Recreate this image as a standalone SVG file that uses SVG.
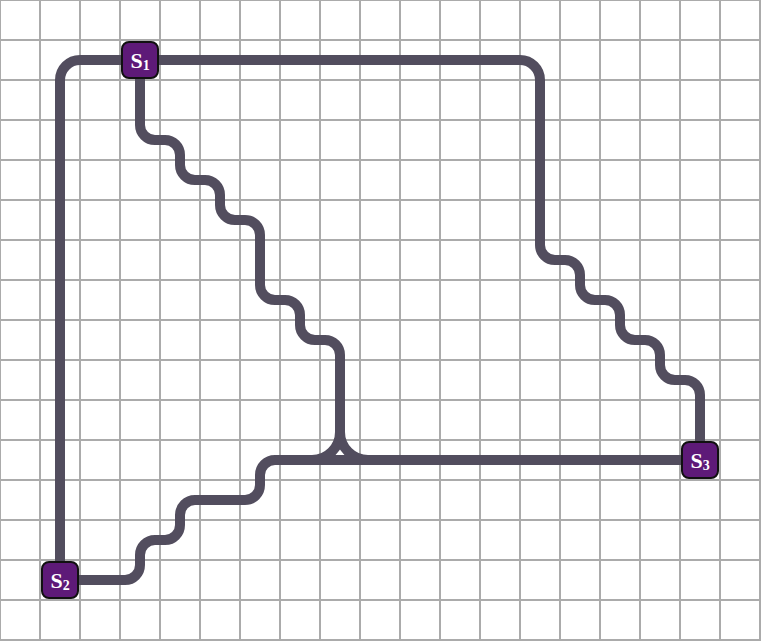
<svg xmlns="http://www.w3.org/2000/svg" width="761" height="641" viewBox="0 0 761 641">
<defs>
<style>
.grid{stroke:#ababab;stroke-width:2;fill:none}
.edge{stroke:#524d5e;stroke-width:10;fill:none;stroke-linecap:butt;stroke-linejoin:round}
.node rect{fill:#5e1a78;stroke:#111;stroke-width:2}
.node text{fill:#fff;font-family:"Liberation Serif","DejaVu Serif",serif;font-weight:bold;font-size:22px;text-anchor:middle}
</style>
</defs>
<rect width="761" height="641" fill="#fff"/>
<g id="grid" class="grid">
<path d="M0 0V641M40 0V641M80 0V641M120 0V641M160 0V641M200 0V641M240 0V641M280 0V641M320 0V641M360 0V641M400 0V641M440 0V641M480 0V641M520 0V641M560 0V641M600 0V641M640 0V641M680 0V641M720 0V641M760 0V641"/>
<path d="M0 0H761M0 40H761M0 80H761M0 120H761M0 160H761M0 200H761M0 240H761M0 280H761M0 320H761M0 360H761M0 400H761M0 440H761M0 480H761M0 520H761M0 560H761M0 600H761M0 640H761"/>
</g>
<g id="connectors">
<path class="edge" d="M140 60 L80 60 A20 20 0 0 0 60 80 L60 580"/>
<path class="edge" d="M140 60 L520 60 A20 20 0 0 1 540 80 L540 245 A15 15 0 0 0 555 260 L565 260 A15 15 0 0 1 580 275 L580 285 A15 15 0 0 0 595 300 L605 300 A15 15 0 0 1 620 315 L620 325 A15 15 0 0 0 635 340 L645 340 A15 15 0 0 1 660 355 L660 365 A15 15 0 0 0 675 380 L685 380 A15 15 0 0 1 700 395 L700 460"/>
<path class="edge" d="M140 60 L140 125 A15 15 0 0 0 155 140 L165 140 A15 15 0 0 1 180 155 L180 165 A15 15 0 0 0 195 180 L205 180 A15 15 0 0 1 220 195 L220 205 A15 15 0 0 0 235 220 L245 220 A15 15 0 0 1 260 235 L260 285 A15 15 0 0 0 275 300 L285 300 A15 15 0 0 1 300 315 L300 325 A15 15 0 0 0 315 340 L325 340 A15 15 0 0 1 340 355 L340 432 A28 28 0 0 1 312 460 M340 432 A28 28 0 0 0 368 460"/>
<path class="edge" d="M60 580 L125 580 A15 15 0 0 0 140 565 L140 555 A15 15 0 0 1 155 540 L165 540 A15 15 0 0 0 180 525 L180 515 A15 15 0 0 1 195 500 L245 500 A15 15 0 0 0 260 485 L260 475 A15 15 0 0 1 275 460 L700 460"/>
</g>
<g id="s1" class="node"><rect x="122" y="42" width="36" height="36" rx="7"/><text x="140" y="68">S<tspan font-size="14" dy="2">1</tspan></text></g>
<g id="s2" class="node"><rect x="42" y="562" width="36" height="36" rx="7"/><text x="60" y="588">S<tspan font-size="14" dy="2">2</tspan></text></g>
<g id="s3" class="node"><rect x="682" y="442" width="36" height="36" rx="7"/><text x="700" y="468">S<tspan font-size="14" dy="2">3</tspan></text></g>
</svg>
